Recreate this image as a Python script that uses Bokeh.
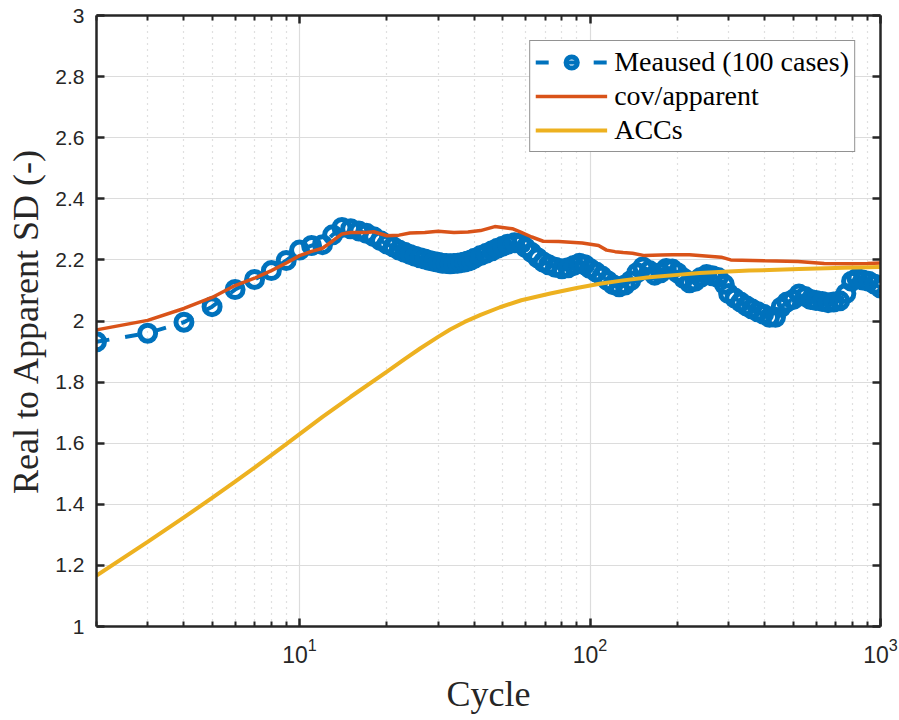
from bokeh.plotting import figure
from bokeh.models import (FixedTicker, SingleIntervalTicker, LinearAxis, LogAxis,
                          CustomJSTickFormatter, ColumnDataSource, Legend, LegendItem)
from bokeh.embed import file_html
from bokeh.resources import INLINE

# ---------------- data ----------------
meas_cycle = [2, 3, 4, 5, 6, 7, 8, 9, 10, 11, 12, 13, 14, 15, 16, 17, 18, 19, 20,
              21, 22, 23, 24, 25, 26, 27, 28, 29, 30, 31, 32, 33, 34, 35, 36, 37, 38, 39, 40,
              42, 44, 46, 48, 50, 52, 55, 58, 60, 63, 66, 69, 72, 76, 80, 84, 88, 92, 96, 100,
              105, 110, 115, 120, 126, 132, 138, 145, 152, 160, 167, 175, 183, 192, 200,
              210, 220, 230, 240, 252, 264, 276, 290, 300, 315, 330, 345, 360, 378, 396,
              415, 435, 455, 476, 500, 524, 550, 575, 600, 630, 660, 690, 724, 760, 795,
              830, 870, 910, 955, 1000]
meas_sd = [1.932, 1.960, 1.996, 2.047, 2.103, 2.136, 2.165, 2.198, 2.232, 2.247, 2.250, 2.282, 2.306, 2.302, 2.295, 2.287, 2.276, 2.263, 2.252,
           2.243, 2.232, 2.225, 2.218, 2.212, 2.207, 2.203, 2.198, 2.195, 2.192, 2.189, 2.188, 2.187, 2.188, 2.189, 2.191, 2.193, 2.196, 2.200, 2.205,
           2.214, 2.222, 2.230, 2.238, 2.245, 2.251, 2.256, 2.255, 2.240, 2.224, 2.207, 2.193, 2.184, 2.176, 2.171, 2.174, 2.182, 2.189, 2.184, 2.172,
           2.160, 2.147, 2.132, 2.119, 2.112, 2.118, 2.132, 2.158, 2.177, 2.165, 2.150, 2.158, 2.172, 2.170, 2.158,
           2.140, 2.125, 2.130, 2.142, 2.152, 2.148, 2.142, 2.120, 2.090, 2.075, 2.062, 2.050, 2.040, 2.030, 2.022,
           2.012, 2.012, 2.045, 2.062, 2.070, 2.088, 2.080, 2.070, 2.067, 2.064, 2.060, 2.062, 2.066, 2.090, 2.130,
           2.140, 2.134, 2.130, 2.120, 2.108]

cov_cycle = [2, 3, 4, 5, 6, 7, 8, 9, 10, 11, 12, 13, 14, 15, 17, 18, 20, 22, 24, 27, 30,
             34, 38, 42, 47, 50, 54, 58, 63, 69, 78, 94, 107, 114, 122, 130, 140, 154,
             175, 192, 220, 283, 305, 400, 520, 640, 800, 900, 1000]
cov_sd = [1.971, 2.002, 2.041, 2.077, 2.116, 2.140, 2.165, 2.190, 2.214, 2.228, 2.238, 2.262, 2.285, 2.290, 2.290, 2.292, 2.279, 2.281, 2.288, 2.290, 2.294,
          2.290, 2.291, 2.296, 2.309, 2.306, 2.302, 2.290, 2.275, 2.261, 2.260, 2.255, 2.247, 2.232, 2.227, 2.224, 2.222, 2.214,
          2.216, 2.217, 2.217, 2.209, 2.200, 2.197, 2.195, 2.188, 2.187, 2.188, 2.190]

acc_cycle = [2, 3, 4, 5, 6, 7, 8, 9, 10, 12, 15, 20, 23, 26, 30, 33, 37, 42, 49, 58, 73, 90,
             108, 130, 160, 200, 238, 300, 353, 525, 750, 1000]
acc_sd = [1.167, 1.277, 1.357, 1.421, 1.474, 1.520, 1.561, 1.597, 1.630, 1.686, 1.752, 1.834, 1.875, 1.910, 1.948, 1.972, 1.997, 2.020, 2.045, 2.068, 2.090, 2.108,
          2.122, 2.133, 2.143, 2.151, 2.157, 2.162, 2.165, 2.170, 2.174, 2.177]

x_major_ticks = [10, 100, 1000]
x_minor_ticks = [m * 10 ** e for e in range(0, 3) for m in range(2, 10)]
y_tick_step = 0.2

labels = ["Meaused (100 cases)", "cov/apparent", "ACCs"]
colors = ["#0072BD", "#D95319", "#EDB120"]

AX = "#262626"
SANS = "Liberation Sans"
SERIF = "Liberation Serif"

p = figure(width=899, height=720, x_axis_type="log", x_range=(2, 1000), y_range=(1, 3),
           output_backend="svg", toolbar_location=None,
           min_border_left=96, min_border_right=19, min_border_top=15, min_border_bottom=94)
p.outline_line_color = None
p.background_fill_color = "white"
p.border_fill_color = "white"

xt = FixedTicker(ticks=x_major_ticks, minor_ticks=x_minor_ticks)
yt = SingleIntervalTicker(interval=y_tick_step, num_minor_ticks=0)
yfmt = CustomJSTickFormatter(code="return (Math.round(tick*10)/10).toString();")
blank = CustomJSTickFormatter(code="return '';")

def style_axis(ax):
    ax.axis_line_color = AX
    ax.axis_line_width = 2.5
    ax.major_tick_line_color = AX
    ax.major_tick_line_width = 2.5
    ax.minor_tick_line_color = AX
    ax.minor_tick_line_width = 2
    ax.major_tick_in = 8
    ax.major_tick_out = 0
    ax.minor_tick_in = 5
    ax.minor_tick_out = 0
    ax.major_label_text_color = AX
    ax.major_label_text_font = SANS
    ax.major_label_text_font_size = "21px"

# bottom axis
xa = p.xaxis[0]
xa.ticker = xt
style_axis(xa)
xa.major_label_text_font_size = "23px"
xa.major_label_standoff = 11
xa.axis_label = "Cycle"
xa.axis_label_text_font = SERIF
xa.axis_label_text_font_size = "36px"
xa.axis_label_text_font_style = "normal"
xa.axis_label_text_color = AX
xa.axis_label_standoff = 8

# left axis
ya = p.yaxis[0]
ya.ticker = yt
ya.formatter = yfmt
style_axis(ya)
ya.major_label_standoff = 12
ya.axis_label = "Real to Apparent SD (-)"
ya.axis_label_text_font = SERIF
ya.axis_label_text_font_size = "36px"
ya.axis_label_text_font_style = "normal"
ya.axis_label_text_color = AX
ya.axis_label_standoff = 6
ya.minor_tick_line_color = None

# box axes (top, right) with inward ticks and no labels
top = LogAxis(ticker=FixedTicker(ticks=x_major_ticks, minor_ticks=x_minor_ticks), formatter=blank)
style_axis(top)
top.major_label_text_font_size = "8px"
top.major_label_standoff = 0
p.add_layout(top, "above")
right = LinearAxis(ticker=SingleIntervalTicker(interval=y_tick_step, num_minor_ticks=0), formatter=blank)
style_axis(right)
right.major_label_text_font_size = "8px"
right.minor_tick_line_color = None
right.major_label_standoff = 0
p.add_layout(right, "right")

# grids
p.xgrid.ticker = xt
p.xgrid.grid_line_color = "#dcdcdc"
p.xgrid.grid_line_width = 1.2
p.xgrid.minor_grid_line_color = "#c2c2c2"
p.xgrid.minor_grid_line_dash = "1 5"
p.xgrid.minor_grid_line_width = 1.2
p.ygrid.ticker = yt
p.ygrid.grid_line_color = "#dcdcdc"
p.ygrid.grid_line_width = 1.2

# data
src_m = ColumnDataSource(dict(x=meas_cycle, y=meas_sd))
src_c = ColumnDataSource(dict(x=cov_cycle, y=cov_sd))
src_a = ColumnDataSource(dict(x=acc_cycle, y=acc_sd))

r_ml = p.line("x", "y", source=src_m, line_color=colors[0], line_width=4, line_dash="13 16")
r_ms = p.scatter("x", "y", source=src_m, marker="circle", size=16, fill_color=None,
                 line_color=colors[0], line_width=5)
r_c = p.line("x", "y", source=src_c, line_color=colors[1], line_width=3.5)
r_a = p.line("x", "y", source=src_a, line_color=colors[2], line_width=4)

legend = Legend(items=[LegendItem(label=labels[0], renderers=[r_ml, r_ms]),
                       LegendItem(label=labels[1], renderers=[r_c]),
                       LegendItem(label=labels[2], renderers=[r_a])],
                location="top_right")
legend.label_text_font = SERIF
legend.label_text_font_size = "28px"
legend.label_text_color = "black"
legend.glyph_width = 72
legend.glyph_height = 28
legend.label_height = 28
legend.spacing = 2
legend.padding = 5
legend.margin = 25
legend.label_standoff = 7
legend.border_line_color = AX
legend.border_line_width = 1.5
legend.background_fill_color = "white"
legend.background_fill_alpha = 1
p.add_layout(legend)

open("out.html", "w").write(file_html(p, INLINE))
